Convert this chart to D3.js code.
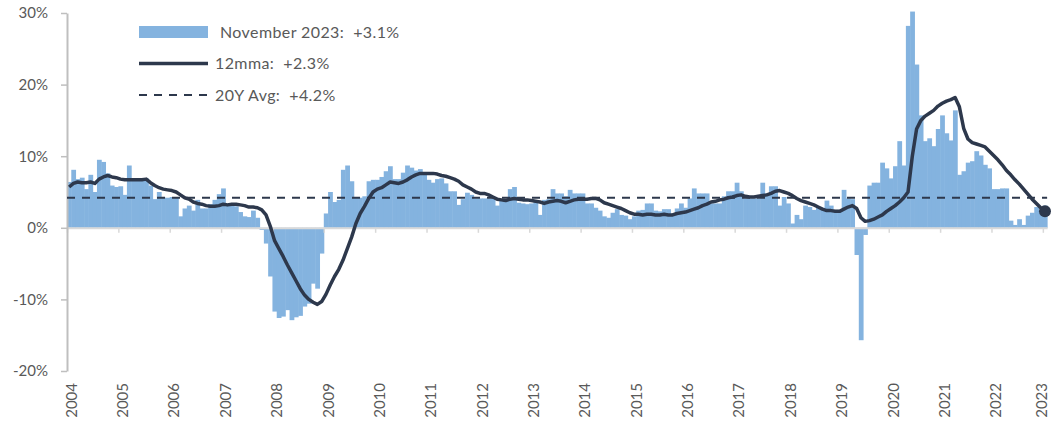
<!DOCTYPE html>
<html>
<head>
<meta charset="utf-8">
<script src="https://cdn.jsdelivr.net/npm/d3@7"></script>
<style>
  body { margin: 0; background: #fff; }
  text { font-family: Lato, "Noto Sans", sans-serif; fill: #595959; }
</style>
</head>
<body>
<script>
// monthly % change, one row per year (2004 .. Nov 2023)
const barValues = [
  6.4, 8.1, 6.8, 7.0, 5.4, 7.4, 5.0, 9.5, 9.2, 7.6, 5.9, 5.7,
  5.8, 4.6, 8.7, 6.9, 6.9, 6.9, 6.9, 5.9, 4.0, 5.0, 4.2, 4.2,
  4.3, 4.2, 1.6, 2.7, 3.1, 2.4, 3.9, 2.7, 2.7, 3.3, 3.9, 4.7,
  5.5, 3.3, 3.4, 3.0, 2.2, 1.6, 1.5, 2.4, 1.4, -0.3, -2.2, -6.8,
  -11.7, -12.6, -12.4, -11.5, -12.9, -12.5, -12.3, -11.0, -10.6, -7.8, -8.5, -3.6,
  2.0, 5.0, 3.6, 3.9, 8.1, 8.7, 6.5, 4.2, 4.2, 4.4, 6.5, 6.7,
  6.7, 7.1, 7.9, 8.6, 6.8, 6.8, 7.7, 8.7, 8.4, 8.0, 8.2, 7.5,
  6.7, 6.3, 6.8, 6.9, 6.2, 5.1, 5.1, 3.2, 4.0, 4.9, 4.6, 4.1,
  4.1, 4.1, 4.1, 4.1, 3.1, 3.9, 3.9, 5.4, 5.7, 3.5, 3.4, 3.3,
  3.4, 3.8, 1.8, 3.9, 4.0, 5.4, 4.8, 4.8, 4.4, 5.3, 4.8, 4.8,
  4.8, 3.4, 3.4, 2.8, 2.4, 1.6, 1.4, 2.1, 2.6, 1.8, 1.7, 1.2,
  1.6, 2.4, 2.5, 3.4, 3.4, 2.4, 2.3, 2.6, 2.6, 2.0, 2.7, 3.4,
  2.8, 4.1, 5.5, 4.8, 4.8, 4.8, 3.4, 3.4, 3.4, 4.4, 5.1, 5.1,
  6.3, 5.1, 4.1, 4.1, 4.1, 4.1, 6.3, 4.8, 5.8, 5.8, 3.1, 4.3,
  3.4, 0.6, 1.8, 1.2, 3.1, 2.9, 2.5, 2.9, 2.8, 3.8, 3.1, 2.5,
  2.5, 5.3, 4.1, 4.0, -3.8, -15.7, -1.0, 5.9, 6.3, 6.3, 9.1, 8.3,
  6.9, 8.6, 12.1, 8.7, 28.2, 30.2, 22.8, 15.7, 12.1, 12.5, 11.4, 13.8,
  15.7, 13.2, 12.2, 16.4, 7.4, 7.9, 9.1, 9.3, 10.7, 10.1, 8.8, 8.3,
  5.4, 5.4, 5.5, 5.5, 1.0, 0.4, 1.2, 0.4, 1.7, 2.1, 2.9, 2.5,
  3.1
];

// 12-month moving average
const mmaValues = [
  5.7, 6.2, 6.4, 6.3, 6.3, 6.4, 6.2, 6.8, 7.1, 7.3, 7.1, 7.0,
  6.8, 6.7, 6.7, 6.7, 6.7, 6.7, 6.8, 6.3, 5.9, 5.6, 5.4, 5.3,
  5.2, 5.0, 4.6, 4.2, 4.0, 3.6, 3.4, 3.3, 3.1, 3.0, 3.0, 3.1,
  3.3, 3.2, 3.3, 3.3, 3.2, 3.1, 2.9, 2.9, 2.8, 2.5, 1.8, 0.2,
  -1.8, -2.9, -4.0, -5.2, -6.3, -7.4, -8.5, -9.4, -10.0, -10.4, -10.7, -10.3,
  -9.3, -8.0, -6.8, -5.8, -4.5, -2.9, -1.3, 0.6, 2.0, 3.0, 4.1, 5.0,
  5.4, 5.6, 6.0, 6.4, 6.3, 6.2, 6.4, 6.7, 7.1, 7.4, 7.6, 7.6,
  7.6, 7.6, 7.5, 7.3, 7.2, 7.0, 6.8, 6.5, 6.0, 5.7, 5.4, 5.0,
  4.8, 4.8, 4.6, 4.3, 4.0, 3.9, 3.8, 4.0, 4.1, 4.0, 3.9, 3.9,
  3.8, 3.7, 3.6, 3.4, 3.6, 3.7, 3.8, 3.7, 3.5, 3.7, 3.9, 4.0,
  4.0, 4.0, 4.1, 4.1, 3.9, 3.5, 3.3, 3.1, 2.9, 2.7, 2.4, 2.1,
  1.9, 1.9, 1.8, 1.9, 1.9, 1.8, 1.8, 1.9, 1.8, 1.8, 2.0, 2.1,
  2.2, 2.4, 2.6, 2.8, 3.1, 3.3, 3.6, 3.7, 3.9, 4.0, 4.2, 4.3,
  4.5, 4.6, 4.4, 4.3, 4.3, 4.4, 4.5, 4.6, 4.8, 5.1, 5.2, 5.0,
  4.8, 4.5, 4.1, 3.8, 3.6, 3.4, 3.2, 2.9, 2.6, 2.4, 2.4, 2.3,
  2.3, 2.6, 2.9, 3.1, 2.7, 1.4, 0.9, 1.0, 1.2, 1.5, 1.8, 2.3,
  2.7, 3.1, 3.6, 4.2, 5.0, 10.0, 13.8, 15.0, 15.6, 16.0, 16.4, 17.0,
  17.4, 17.7, 17.9, 18.2, 16.9, 13.9, 12.4, 11.9, 11.7, 11.5, 11.3, 10.7,
  10.1, 9.5, 8.8, 8.0, 7.4, 6.7, 6.1, 5.4, 4.7, 4.0, 3.4, 2.8,
  2.3
];

const avg20Y = 4.2;
const yearLabels = d3.range(2004, 2024).map(String);
const yTicks = [-20, -10, 0, 10, 20, 30];
const legendItems = [
  { kind: "bar", label: "November 2023:\u00a0\u00a0+3.1%" },
  { kind: "line", label: "12mma:\u00a0\u00a0+2.3%" },
  { kind: "dash", label: "20Y Avg:\u00a0\u00a0+4.2%" }
];

const w = 1051, h = 426;
const barColor = "#84b3df", lineColor = "#2d384c";

const svg = d3.select("body").append("svg")
  .attr("width", w)
  .attr("height", h);

const n = barValues.length;
const xScale = d3.scaleLinear().domain([0, n]).range([67, 67 + n * 4.28]);
const yScale = d3.scaleLinear().domain([-20, 30]).range([371, 13]);
const bw = xScale(1) - xScale(0);

// bars
svg.append("g")
  .selectAll("rect")
  .data(barValues)
  .enter()
  .append("rect")
  .attr("x", (d, i) => xScale(i))
  .attr("width", bw + 0.5)
  .attr("y", d => yScale(Math.max(0, d)))
  .attr("height", d => Math.abs(yScale(d) - yScale(0)))
  .attr("fill", barColor);

// zero axis with year ticks
const xAxis = svg.append("g")
  .attr("transform", "translate(0," + yScale(0) + ")")
  .call(d3.axisBottom(xScale)
    .tickValues(d3.range(0, n, 12))
    .tickSize(5)
    .tickSizeOuter(0)
    .tickFormat(i => yearLabels[i / 12]));
xAxis.select(".domain").attr("stroke", "#d9d9d9").attr("stroke-width", 2);
xAxis.selectAll(".tick line").attr("stroke", "#d9d9d9").attr("stroke-width", 1.5);
xAxis.selectAll(".tick text")
  .attr("font-size", 15)
  .attr("text-anchor", "end")
  .attr("transform", function (i) {
    // last label sits at the page edge, pull it in a little
    const dx = i + 12 >= n ? -2 : 4;
    return "translate(" + dx + "," + (yScale(-20) - yScale(0) + 12) + ") rotate(-90)";
  })
  .attr("x", 0)
  .attr("y", 0)
  .attr("dy", "0.35em");

// y axis
const yAxis = svg.append("g")
  .attr("transform", "translate(67,0)")
  .call(d3.axisLeft(yScale)
    .tickValues(yTicks)
    .tickSize(6)
    .tickSizeOuter(0)
    .tickPadding(13)
    .tickFormat(d => d + "%"));
yAxis.select(".domain").attr("stroke", "#bfbfbf").attr("stroke-width", 2);
yAxis.selectAll(".tick line").attr("stroke", "#bfbfbf").attr("stroke-width", 1.5);
yAxis.selectAll(".tick text").attr("font-size", 15);

// 20Y average
svg.append("line")
  .attr("x1", xScale(0))
  .attr("x2", xScale(n))
  .attr("y1", yScale(avg20Y))
  .attr("y2", yScale(avg20Y))
  .attr("stroke", lineColor)
  .attr("stroke-width", 2.2)
  .attr("stroke-dasharray", "8,7");

// 12mma line
const line = d3.line()
  .x((d, i) => xScale(i + 0.5))
  .y(d => yScale(d));
svg.append("path")
  .datum(mmaValues)
  .attr("d", line)
  .attr("fill", "none")
  .attr("stroke", lineColor)
  .attr("stroke-width", 3.5)
  .attr("stroke-linejoin", "round");

svg.append("circle")
  .attr("cx", xScale(n - 0.5))
  .attr("cy", yScale(mmaValues[n - 1]))
  .attr("r", 6)
  .attr("fill", lineColor);

// legend
const legend = svg.append("g").attr("transform", "translate(139,0)");
legendItems.forEach((item, k) => {
  const cy = 32 + k * 31.5;
  if (item.kind === "bar") {
    legend.append("rect")
      .attr("x", 0).attr("y", cy - 6)
      .attr("width", 69).attr("height", 12)
      .attr("fill", barColor);
  } else {
    legend.append("line")
      .attr("x1", 0).attr("x2", 69)
      .attr("y1", cy).attr("y2", cy)
      .attr("stroke", lineColor)
      .attr("stroke-width", item.kind === "line" ? 3.5 : 2.2)
      .attr("stroke-dasharray", item.kind === "dash" ? "8,7" : null);
  }
  legend.append("text")
    .attr("x", item.kind === "bar" ? 81 : 76)
    .attr("y", cy)
    .attr("dy", "0.36em")
    .attr("font-size", 16)
    .attr("letter-spacing", 0.4)
    .text(item.label);
});
</script>
</body>
</html>
